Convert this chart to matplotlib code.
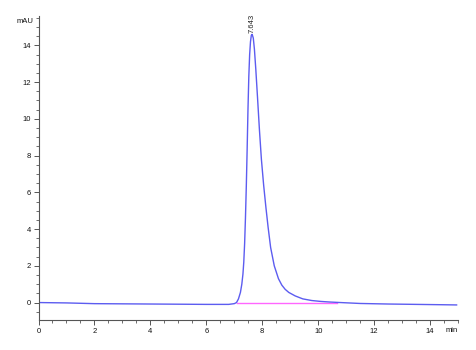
import numpy as np
import matplotlib.pyplot as plt
from matplotlib.ticker import MultipleLocator

# chromatogram trace (min, mAU)
time_min = [0.0, 1.0, 2.0, 3.0, 4.0, 5.0, 6.0, 6.8, 7.0, 7.08, 7.15, 7.22,
            7.27, 7.31, 7.34, 7.37, 7.40, 7.43, 7.46, 7.49, 7.52, 7.55, 7.58,
            7.61, 7.64, 7.68, 7.72, 7.77, 7.83, 7.90, 7.97, 8.05, 8.13, 8.21,
            8.30, 8.43, 8.58, 8.70, 8.82, 8.95, 9.18, 9.45, 9.77, 10.1, 10.4,
            10.8, 11.5, 12.5, 13.5, 14.5, 14.95]
signal_mau = [0.0, -0.02, -0.06, -0.07, -0.08, -0.09, -0.10, -0.10, -0.06,
              0.0, 0.2, 0.55, 1.0, 1.55, 2.2, 3.2, 4.6, 6.3, 8.3, 10.5, 12.3,
              13.5, 14.2, 14.55, 14.6, 14.4, 13.8, 12.7, 11.2, 9.4, 7.8, 6.4,
              5.2, 4.1, 3.0, 2.0, 1.3, 0.95, 0.72, 0.55, 0.36, 0.2, 0.11, 0.06,
              0.03, 0.0, -0.05, -0.08, -0.10, -0.12, -0.13]

# integration baseline
base_t = [7.08, 10.68]
base_v = [-0.04, -0.04]

peak_rt = 7.643
peak_h = 14.6

fig = plt.figure(figsize=(4.77, 3.5), dpi=100)
ax = fig.add_axes([38.5 / 477, 30 / 350, 419.5 / 477, 304 / 350])

ax.plot(base_t, base_v, color="#ff66ff", lw=1.0)
ax.plot(time_min, signal_mau, color="#5c5cf0", lw=1.0)

ax.text(peak_rt, peak_h + 0.1, "7.643", rotation=90, ha="center", va="bottom",
        fontsize=5.5, color="#222222", family="Liberation Sans")

ax.set_xlim(0, 15)
ax.set_ylim(-0.95, 15.6)

for s in ["top", "right"]:
    ax.spines[s].set_visible(False)
for s in ["left", "bottom"]:
    ax.spines[s].set_color("#555555")
    ax.spines[s].set_linewidth(0.8)

ax.xaxis.set_major_locator(MultipleLocator(2))
ax.xaxis.set_minor_locator(MultipleLocator(0.5))
ax.yaxis.set_minor_locator(MultipleLocator(0.5))
ax.set_yticks([0, 2, 4, 6, 8, 10, 12, 14])
ax.tick_params(which="major", length=3.5, width=0.7, color="#555555",
               labelsize=5.5, pad=2, labelcolor="#111111")
ax.tick_params(which="minor", length=2, width=0.6, color="#555555")
for lab in ax.get_xticklabels() + ax.get_yticklabels():
    lab.set_family("Liberation Sans")

ax.text(-0.012, 15.3, "mAU", transform=ax.get_yaxis_transform(), ha="right",
        va="center", fontsize=5.5, family="Liberation Sans", color="#111111")
ax.text(1.0, -0.022, "min", transform=ax.transAxes, ha="right", va="top",
        fontsize=5.5, family="Liberation Sans", color="#111111")

fig.savefig("out.png", dpi=100)
